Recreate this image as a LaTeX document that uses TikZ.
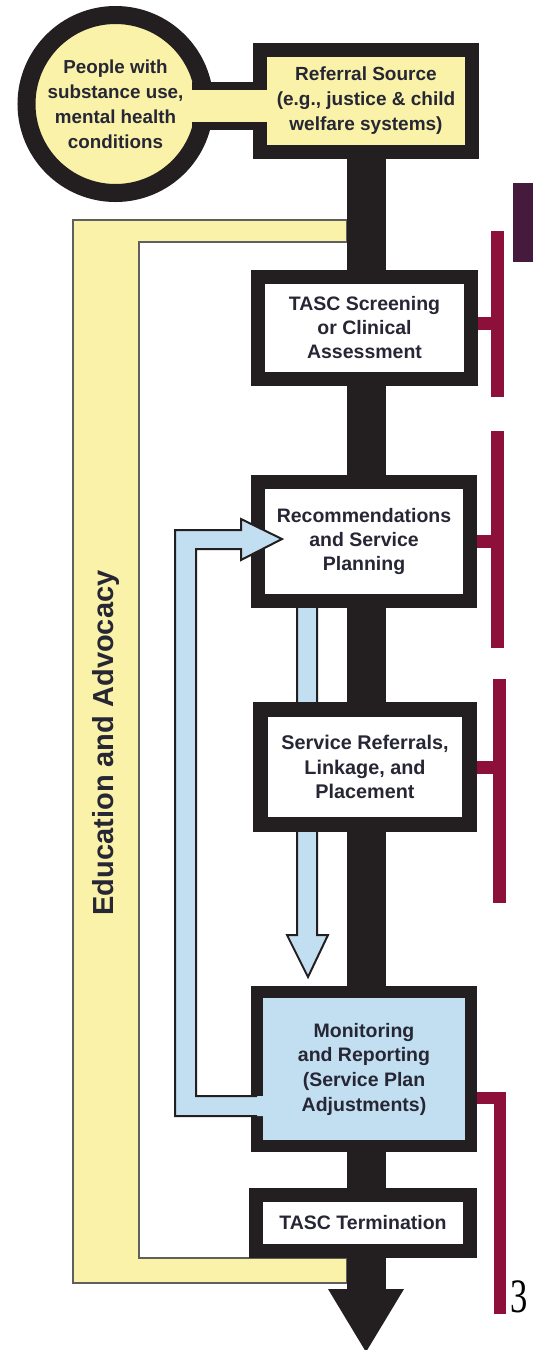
\documentclass[tikz,border=0pt]{standalone}
\usepackage{fontspec}
\setmainfont{Liberation Sans}
\newfontfamily\numfont{Liberation Serif}
\definecolor{darkc}{RGB}{35,31,32}
\definecolor{yellowc}{RGB}{249,242,168}
\definecolor{bluec}{RGB}{194,223,241}
\definecolor{crimc}{RGB}{140,16,58}
\definecolor{purpc}{RGB}{70,26,60}
\definecolor{inkc}{RGB}{38,38,52}
\definecolor{grayc}{RGB}{95,95,95}
\pgfdeclarelayer{back}
\pgfsetlayers{back,main}
\begin{document}
\begin{tikzpicture}[x=1pt,y=-1pt,
  boxtext/.style={font=\bfseries\fontsize{19.5}{24}\selectfont, text=inkc, align=center},
  stagebox/.style={rectangle, draw=darkc, line width=14pt, fill=white, inner sep=0pt, boxtext},
  bracket/.style={draw=crimc, line width=13pt},
  trunkline/.style={draw=darkc, line width=39pt},
  blueedge/.style={draw=darkc, line width=2pt, line join=miter},
]
\useasboundingbox (0,0) rectangle (533,1350);

% nodes
\node[circle, draw=darkc, line width=18pt, fill=yellowc, minimum size=178pt, inner sep=0pt,
      font=\bfseries\fontsize{18.8}{25}\selectfont, text=inkc, align=center]
  (pc) at (115.5,104) {People with\\substance use,\\mental health\\conditions};
\node[stagebox, fill=yellowc, minimum width=212pt, minimum height=102pt,
      font=\bfseries\fontsize{19}{25}\selectfont]
  (ref) at (366,101) {Referral Source\\(e.g., justice \& child\\welfare systems)};
\node[stagebox, minimum width=213pt, minimum height=102pt]
  (scr) at (364.5,328) {TASC Screening\\or Clinical\\Assessment};
\node[stagebox, minimum width=212pt, minimum height=119pt]
  (rec) at (364,541.5) {Recommendations\\and Service\\Planning};
\node[stagebox, line width=15pt, minimum width=209pt, minimum height=115pt,
      font=\bfseries\fontsize{19.8}{24.5}\selectfont]
  (srv) at (365,767) {Service Referrals,\\Linkage, and\\Placement};
\node[stagebox, line width=12pt, fill=bluec, minimum width=214pt, minimum height=154pt,
      font=\bfseries\fontsize{19.5}{24.7}\selectfont]
  (mon) at (364,1069) {Monitoring\\and Reporting\\(Service Plan\\Adjustments)};
\node[stagebox, minimum width=214pt, minimum height=56pt]
  (term) at (363,1223) {TASC Termination};

\coordinate (trunkend) at (366,1290);

\begin{pgfonlayer}{back}
  \fill[white] (0,0) rectangle (533,1350);
  % yellow education band
  \filldraw[fill=yellowc, draw=grayc, line width=1.3pt]
    (347,220) -- (73,220) -- (73,1283) -- (347,1283) -- (347,1258)
    -- (139,1258) -- (139,242) -- (347,242) -- cycle;
  % main trunk with arrow head
  \draw[trunkline] (ref.center) -- (ref.center |- trunkend);
  \fill[darkc] (328,1289) -- (404,1289) -- (366,1352) -- cycle;
  % blue downward arrow
  \filldraw[fill=bluec, blueedge]
    (297,600) -- (297,935) -- (287,935) -- (308,977) -- (328,935) -- (317,935) -- (317,600);
\end{pgfonlayer}

% connector circle -> referral box
\draw[darkc, line width=48pt] ([xshift=-21.5pt,yshift=-2pt]pc.east) -- ([xshift=9pt,yshift=-2pt]pc.east -| ref.west);
\draw[yellowc, line width=32pt] ([xshift=-25.5pt,yshift=-2pt]pc.east) -- ([xshift=16pt,yshift=-2pt]pc.east -| ref.west);

% blue feedback loop
\fill[bluec] (264,1096) -- (196,1096) -- (196,549) -- (241,549) -- (241,560) -- (282,539)
  -- (241,519) -- (241,530) -- (175,530) -- (175,1116) -- (264,1116) -- cycle;
\draw[blueedge] (257,1096) -- (196,1096) -- (196,549) -- (241,549) -- (241,560) -- (282,539)
  -- (241,519) -- (241,530) -- (175,530) -- (175,1116) -- (257,1116);

% red brackets
\draw[bracket] (497.5,231) -- (497.5,397);
\draw[bracket] (scr.east |- 0,323.5) -- (497.5,323.5);
\draw[bracket] (497.5,431) -- (497.5,648);
\draw[bracket] (rec.east) -- (497.5,541.5);
\draw[bracket] (499.5,679) -- (499.5,903);
\draw[bracket] (srv.east) -- (499.5,767);
\draw[bracket, line width=12pt, line join=miter] (mon.east |- 0,1097.5) -- (499.5,1097.5) -- (499.5,1314);

% purple block
\fill[purpc] (513,183) rectangle (533,262);

% page number fragment
\node[font=\numfont\fontsize{48}{48}\selectfont, xscale=0.72, inner sep=0pt, anchor=base west]
  (pgnum) at (510.5,1312) {3};

% side label
\node[rotate=90, anchor=base, inner sep=0pt, font=\bfseries\fontsize{29}{29}\selectfont, text=inkc]
  (edu) at (113,743) {Education and Advocacy};
\end{tikzpicture}
\end{document}
